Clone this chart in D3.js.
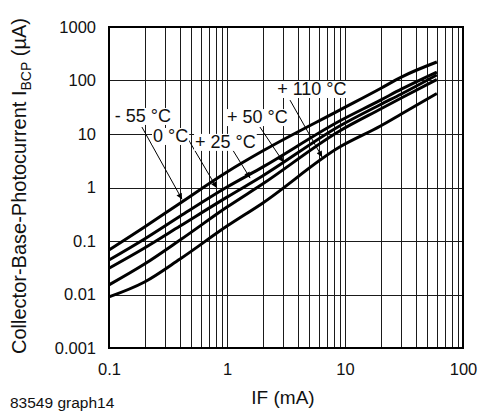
<!DOCTYPE html>
<meta charset="utf-8">
<style>

body { margin: 0; background: #fff; font-family: "Liberation Sans", Arial, sans-serif; }

.grid line {
    stroke: #1a1a1a;
    stroke-width: 1;
}

.curve {
    fill: none;
    stroke: #000;
    stroke-width: 3;
    stroke-linejoin: round;
}

.axis path, .axis line { display: none; }

.axis text {
    font-family: "Liberation Sans", Arial, sans-serif;
    font-size: 16.5px;
    fill: #111;
}

.lbl {
    font-size: 18px;
    fill: #111;
}

</style>
<body>
<script src="https://d3js.org/d3.v7.min.js"></script>
<script>

// forward current (mA), shared by all curves
var ifValues = [0.1, 0.2, 0.4, 1, 2, 9, 20, 30, 60];

// collector-base photocurrent (uA) per ambient temperature
var iM55  = [0.068, 0.183, 0.51, 1.95, 4.8, 28, 71, 116, 222];
var i0    = [0.044, 0.109, 0.29, 1.02, 2.4, 17.5, 43, 69, 144];
var i25   = [0.031, 0.074, 0.19, 0.66, 1.64, 14.1, 35.6, 56, 127];
var i50   = [0.0151, 0.037, 0.104, 0.43, 1.16, 11.4, 29.3, 47, 104];
var i110  = [0.009, 0.0171, 0.046, 0.19, 0.51, 5.7, 14.1, 23.6, 57];

var seriesNames = ["- 55 °C", "0 °C", "+ 25 °C", "+ 50 °C", "+ 110 °C"];
var seriesValues = [iM55, i0, i25, i50, i110];

// label text anchor (IF, I) and arrow start / tip (IF, I)
var labelPos  = [[0.112, 16.8], [0.236, 7.1], [0.536, 5.5], [1.0, 16], [2.66, 53.6]];
var arrowFrom = [[0.19, 13.5], [0.467, 8.1], [1.12, 5.0], [1.9, 13.5], [3.42, 43]];
var arrowTo   = [[0.416, 0.6], [0.82, 0.98], [1.57, 1.5], [3.0, 3.0], [6.4, 3.7]];

var xTickLabels = [0.1, 1, 10, 100];
var yTickLabels = [0.001, 0.01, 0.1, 1, 10, 100, 1000];

var margin = {top: 27, right: 17, bottom: 68, left: 109},
    width = 480 - margin.left - margin.right,
    height = 416 - margin.top - margin.bottom;

var x = d3.scaleLog().domain([0.1, 100]).range([0, width]);
var y = d3.scaleLog().domain([0.001, 1000]).range([height, 0]);

var svg = d3.select("body")
    .append("svg")
        .attr("width", 480)
        .attr("height", 416);

var g = svg.append("g")
    .attr("transform", "translate(" + margin.left + "," + margin.top + ")");

// grid: every 1..9 step on x, decades on y
var grid = g.append("g").attr("class", "grid");
grid.selectAll(".vx")
    .data(x.ticks())
    .enter().append("line")
        .attr("x1", function(d) { return Math.round(x(d)) + 0.5; })
        .attr("x2", function(d) { return Math.round(x(d)) + 0.5; })
        .attr("y1", 0)
        .attr("y2", height);
grid.selectAll(".hy")
    .data(yTickLabels)
    .enter().append("line")
        .attr("x1", 0)
        .attr("x2", width)
        .attr("y1", function(d) { return Math.round(y(d)) + 0.5; })
        .attr("y2", function(d) { return Math.round(y(d)) + 0.5; });

// frame
g.append("rect")
    .attr("width", width)
    .attr("height", height)
    .attr("fill", "none")
    .attr("stroke", "#000")
    .attr("stroke-width", 2);

// curves
var line = d3.line()
    .x(function(d) { return x(d[0]); })
    .y(function(d) { return y(d[1]); })
    .curve(d3.curveMonotoneX);

seriesValues.forEach(function(vals) {
    g.append("path")
        .attr("class", "curve")
        .attr("d", line(ifValues.map(function(v, i) { return [v, vals[i]]; })));
});

// arrow head
svg.append("defs").append("marker")
    .attr("id", "head")
    .attr("viewBox", "0 0 10 10")
    .attr("refX", 10)
    .attr("refY", 5)
    .attr("markerUnits", "userSpaceOnUse")
    .attr("markerWidth", 9)
    .attr("markerHeight", 6)
    .attr("orient", "auto")
  .append("path")
    .attr("d", "M0,0L10,5L0,10z")
    .attr("fill", "#000");

seriesNames.forEach(function(name, i) {
    g.append("line")
        .attr("x1", x(arrowFrom[i][0]))
        .attr("y1", y(arrowFrom[i][1]))
        .attr("x2", x(arrowTo[i][0]))
        .attr("y2", y(arrowTo[i][1]))
        .attr("stroke", "#000")
        .attr("stroke-width", 1)
        .attr("marker-end", "url(#head)");
});

// labels with white boxes
seriesNames.forEach(function(name, i) {
    var lg = g.append("g");
    var box = lg.append("rect").attr("fill", "#fff");
    var t = lg.append("text")
        .attr("class", "lbl")
        .attr("x", x(labelPos[i][0]))
        .attr("y", y(labelPos[i][1]))
        .text(name);
    var bb = t.node().getBBox();
    box.attr("x", bb.x - 1)
        .attr("y", bb.y + 2)
        .attr("width", bb.width + 2)
        .attr("height", bb.height - 3);
});

// axes (labels only)
g.append("g")
    .attr("class", "x axis")
    .attr("transform", "translate(0," + height + ")")
    .call(d3.axisBottom(x).tickValues(xTickLabels).tickSize(0).tickPadding(15)
        .tickFormat(function(d) { return String(d); }));

g.append("g")
    .attr("class", "y axis")
    .call(d3.axisLeft(y).tickValues(yTickLabels).tickSize(0).tickPadding(13)
        .tickFormat(function(d) { return String(d); }));

// axis titles
svg.append("text")
    .attr("x", 283)
    .attr("y", 404)
    .attr("text-anchor", "middle")
    .style("font-size", "19px")
    .attr("fill", "#111")
    .text("IF (mA)");

var yt = svg.append("text")
    .attr("transform", "translate(26," + 186 + ") rotate(-90)")
    .attr("text-anchor", "middle")
    .style("font-size", "20px")
    .attr("fill", "#111");
yt.append("tspan").text("Collector-Base-Photocurrent I");
yt.append("tspan").attr("dy", 5).style("font-size", "14px").text("BCP");
yt.append("tspan").attr("dy", -5).text(" (µA)");

svg.append("text")
    .attr("x", 10)
    .attr("y", 408)
    .style("font-size", "15.5px")
    .attr("fill", "#111")
    .text("83549 graph14");

</script>
</body>
